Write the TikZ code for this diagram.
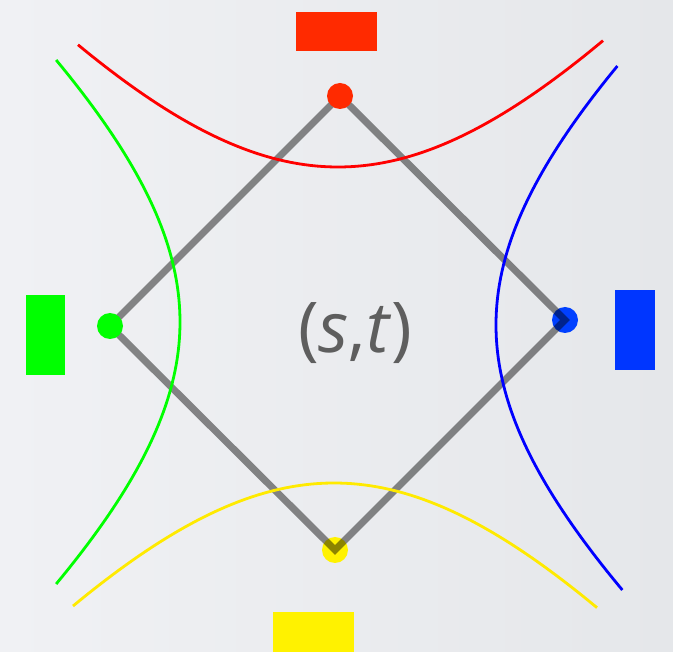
\documentclass[tikz,border=0pt]{standalone}
\usepackage{fontspec}
\setmainfont{Open Sans}
\usetikzlibrary{calc}
\definecolor{bgleft}{HTML}{F0F1F4}
\definecolor{bgright}{HTML}{E5E7EA}
\definecolor{boxred}{HTML}{FF2A00}
\definecolor{boxblue}{HTML}{0036FF}
\definecolor{dotblue}{HTML}{0040FF}
\definecolor{curveyellow}{HTML}{FFEA00}
\definecolor{labelgray}{HTML}{5E5E5E}

\begin{document}
\begin{tikzpicture}[x=1pt,y=-1pt,
    box/.style={inner sep=0pt,outer sep=0pt,minimum width=#1},
    curve/.style={line width=2.8pt}]
        % background, 673 x 652
        \shade[left color=bgleft,right color=bgright] (0,0) rectangle (673,652);
        \useasboundingbox (0,0) rectangle (673,652);

        % corners of the square
        \coordinate (R) at (340,96);
        \coordinate (B) at (565,320);
        \coordinate (Y) at (335,550);
        \coordinate (G) at (110,326);

        % these two sit under the grey square
        \fill[dotblue] (B) circle (13);
        \fill[yellow] (Y) circle (13);

        \draw[black,opacity=0.45,line width=7pt] (R) -- (B) -- (Y) -- (G) -- cycle;

        % these two sit on top
        \fill[boxred] (R) circle (13);
        \fill[green] (G) circle (13);

        % hyperbola-like branches
        \draw[red,curve] plot[domain=78:603,samples=80]
            (\x,{167-378*(sqrt(1+((\x-338)/300)^2)-1)});
        \draw[curveyellow,curve] plot[domain=73:597,samples=80]
            (\x,{483+378*(sqrt(1+((\x-334)/300)^2)-1)});
        \draw[green,curve] plot[domain=60:584,samples=80,variable=\t]
            ({180-378*(sqrt(1+((\t-322)/300)^2)-1)},\t);
        \draw[blue,curve] plot[domain=66:590,samples=80,variable=\t]
            ({496+378*(sqrt(1+((\t-325)/300)^2)-1)},\t);

        % coloured tags
        \node[box=81pt,minimum height=39pt,fill=boxred] (redtag) at (336.5,31.5) {};
        \node[box=39pt,minimum height=80pt,fill=green] (greentag) at (45.5,335) {};
        \node[box=40pt,minimum height=80pt,fill=boxblue] (bluetag) at (635,330) {};
        \node[box=81pt,minimum height=40pt,fill=yellow] (yellowtag) at (313.5,632) {};

        \node[text=labelgray,font=\fontsize{70}{70}\selectfont] (st) at (355,333) {(\textit{s},\textit{t})};
    \end{tikzpicture}
\end{document}
